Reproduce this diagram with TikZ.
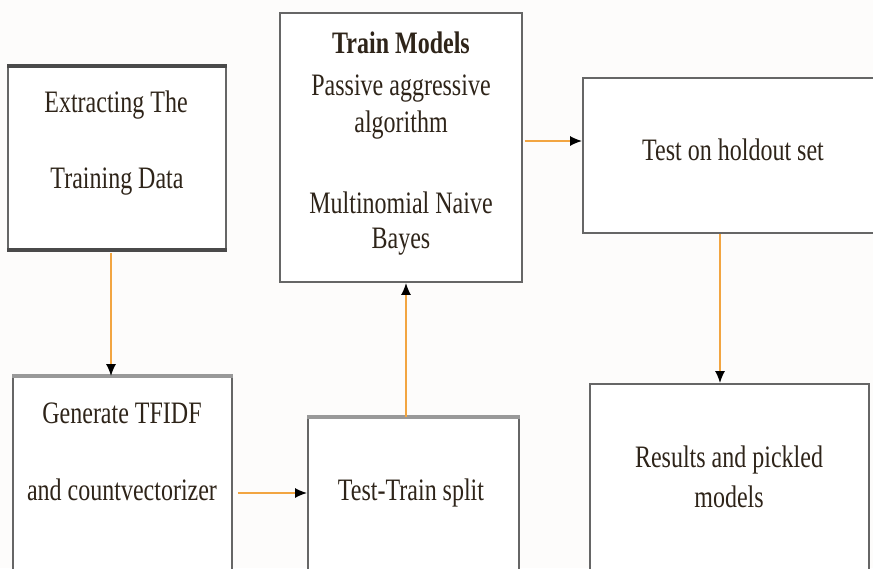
\documentclass[tikz,border=0pt]{standalone}
\usepackage{graphicx}
\usepackage{fontspec}
\setmainfont{Liberation Serif}
\usetikzlibrary{arrows.meta,calc}
\definecolor{boxgray}{HTML}{666666}
\definecolor{edgedark}{HTML}{4A4A4A}
\definecolor{arrorange}{HTML}{F2A541}
\definecolor{txtdark}{HTML}{2E2419}
\definecolor{bgwhite}{HTML}{FDFCFB}
\newcommand\stxt[1]{\scalebox{1}[1.3]{#1}}
\tikzset{
  box/.style={draw=boxgray, line width=1.8pt, fill=white, inner sep=0pt},
  thickedge/.style={draw=edgedark, line width=3.4pt},
  grayedge/.style={draw=gray!80, line width=4.5pt},
  lbl/.style={anchor=base, inner sep=0pt, text=txtdark, font=\fontsize{24}{29}\selectfont},
  arr/.style={draw=arrorange, line width=1.6pt, -{Latex[length=12pt,width=10pt,color=black]}}
}
\begin{document}
\begin{tikzpicture}[x=1pt,y=-1pt]
\useasboundingbox (0,0) rectangle (873,568);
\fill[bgwhite] (0,0) rectangle (873,568);
\begin{scope}
\clip (0,0) rectangle (873,568);
% boxes
\node[box, minimum width=218pt, minimum height=182pt] (A) at (117,158) {};
\node[box, minimum width=242pt, minimum height=269pt] (B) at (401,147.5) {};
\node[box, minimum width=322pt, minimum height=155pt] (C) at (744,155.5) {};
\node[box, minimum width=219pt, minimum height=223pt] (D) at (122.5,488.5) {};
\node[box, minimum width=211pt, minimum height=182pt] (E) at (413.5,509) {};
\node[box, minimum width=279pt, minimum height=216pt] (F) at (729.5,492) {};
% heavier edges
\draw[thickedge] (A.north west) -- (A.north east);
\draw[thickedge] (A.south west) -- (A.south east);
\draw[grayedge] (D.north west) -- (D.north east);
\draw[grayedge] (E.north west) -- (E.north east);
% texts
\node[lbl] (a1) at (116,112) {\stxt{Extracting The}};
\node[lbl] (a2) at (117,188) {\stxt{Training Data}};
\node[lbl] (b1) at (401,53) {\stxt{\textbf{Train Models}}};
\node[lbl] (b2) at (401,95) {\stxt{Passive aggressive}};
\node[lbl] (b3) at (401,132) {\stxt{algorithm}};
\node[lbl] (b4) at (401,213) {\stxt{Multinomial Naive}};
\node[lbl] (b5) at (401,248) {\stxt{Bayes}};
\node[lbl] (c1) at (733,160) {\stxt{Test on holdout set}};
\node[lbl] (d1) at (122,423) {\stxt{Generate TFIDF}};
\node[lbl] (d2) at (122,500) {\stxt{and countvectorizer}};
\node[lbl] (e1) at (411,500) {\stxt{Test-Train split}};
\node[lbl] (f1) at (729,467) {\stxt{Results and pickled}};
\node[lbl] (f2) at (729,507) {\stxt{models}};
% connector guide coordinates
\coordinate (xad) at (111,0);
\coordinate (ybc) at (0,141);
\coordinate (yde) at (0,493);
\coordinate (xeb) at (406,0);
\coordinate (xcf) at (720,0);
% connectors
\draw[arr, shorten <=3pt] (A.south -| xad) -- (D.north -| xad);
\draw[arr, shorten <=2pt] (B.east |- ybc) -- (C.west |- ybc);
\draw[arr, shorten <=5pt] (D.east |- yde) -- (E.west |- yde);
\draw[arr] (E.north -| xeb) -- (B.south -| xeb);
\draw[arr] (C.south -| xcf) -- (F.north -| xcf);
\end{scope}
\end{tikzpicture}
\end{document}
